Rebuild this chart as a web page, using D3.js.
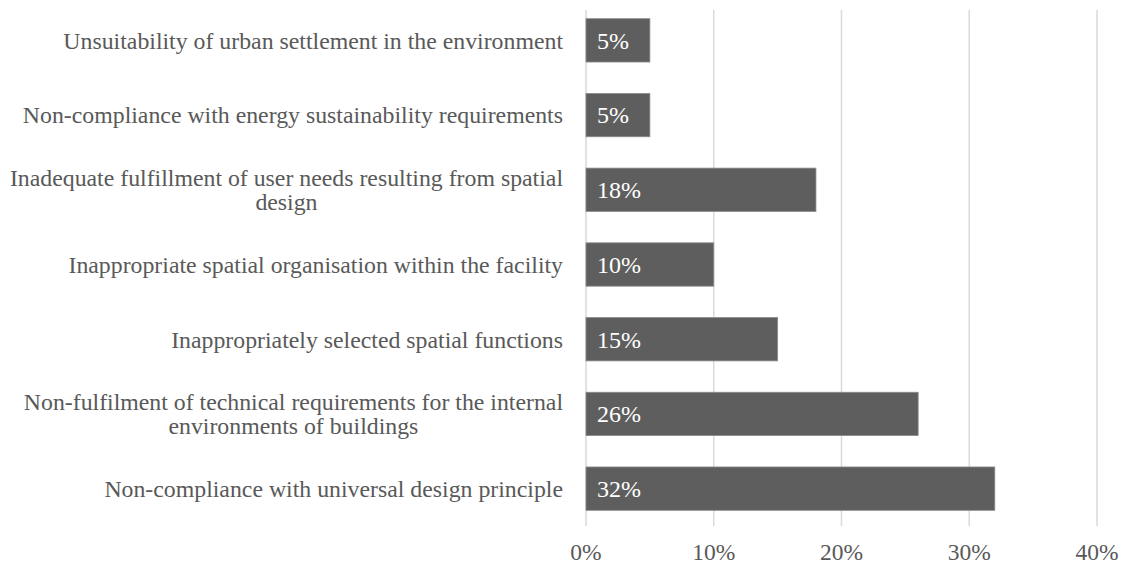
<!DOCTYPE html>
<html>
<head>
<meta charset="utf-8">
<script src="https://cdn.jsdelivr.net/npm/d3@7"></script>
<style>
  body { margin: 0; background: #fff; }
  svg { display: block; font-family: "Liberation Serif", "Times New Roman", serif; }
</style>
</head>
<body>
<svg id="chart" width="1126" height="566"></svg>
<script>
// categories, top to bottom, each split into the lines shown in the chart
const categories = [
  ["Unsuitability of urban settlement in the environment"],
  ["Non-compliance with energy sustainability requirements"],
  ["Inadequate fulfillment of user needs resulting from spatial", "design"],
  ["Inappropriate spatial organisation within the facility"],
  ["Inappropriately selected spatial functions"],
  ["Non-fulfilment of technical requirements for the internal", "environments of buildings"],
  ["Non-compliance with universal design principle"]
];
const values = [5, 5, 18, 10, 15, 26, 32];
const ticks = [0, 10, 20, 30, 40];

const width = 1126;
const height = 566;
const margin = { top: 3, right: 29, bottom: 40, left: 586 };

const svg = d3.select("#chart");

const x = d3.scaleLinear()
  .domain([0, 40])
  .range([margin.left, width - margin.right]);

const y = d3.scaleBand()
  .domain(d3.range(categories.length))
  .range([margin.top, height - margin.bottom])
  .paddingInner(0.42)
  .paddingOuter(0.21);

// gridlines
svg.append("g")
  .selectAll("line")
  .data(ticks)
  .join("line")
  .attr("x1", d => x(d))
  .attr("x2", d => x(d))
  .attr("y1", 10)
  .attr("y2", 526)
  .attr("stroke", "#d9d9d9")
  .attr("stroke-width", 1.5);

// bars
svg.append("g")
  .selectAll("rect")
  .data(values)
  .join("rect")
  .attr("x", x(0))
  .attr("y", (d, i) => y(i))
  .attr("width", d => x(d) - x(0))
  .attr("height", y.bandwidth())
  .attr("fill", "#5e5e5e")
  .attr("stroke", "#8a8a8a")
  .attr("stroke-width", 0.8);

// value labels inside bars
svg.append("g")
  .selectAll("text")
  .data(values)
  .join("text")
  .attr("x", x(0) + 11)
  .attr("y", (d, i) => y(i) + y.bandwidth() / 2)
  .attr("dy", "0.35em")
  .attr("fill", "#fff")
  .style("font-size", "24px")
  .text(d => d + "%");

// x axis tick labels
svg.append("g")
  .selectAll("text")
  .data(ticks)
  .join("text")
  .attr("x", d => x(d))
  .attr("y", 552)
  .attr("dy", "0.35em")
  .attr("text-anchor", "middle")
  .attr("fill", "#595959")
  .style("font-size", "23.5px")
  .text(d => d + "%");

// category labels (multi-line ones are centred as a block, block right-aligned)
const labelRight = 563;
const lineHeight = 24;
const catG = svg.append("g")
  .attr("fill", "#595959")
  .style("font-size", "23.8px");

categories.forEach((lines, i) => {
  const cy = y(i) + y.bandwidth() / 2;
  const t = catG.append("text")
    .attr("text-anchor", lines.length > 1 ? "middle" : "end");
  lines.forEach((line, k) => {
    t.append("tspan")
      .attr("y", cy + (k - (lines.length - 1) / 2) * lineHeight)
      .attr("dy", "0.35em")
      .text(line);
  });
  if (lines.length > 1) {
    const maxW = d3.max(t.selectAll("tspan").nodes(), n => n.getComputedTextLength());
    t.selectAll("tspan").attr("x", labelRight - maxW / 2);
  } else {
    t.selectAll("tspan").attr("x", labelRight);
  }
});
</script>
</body>
</html>
